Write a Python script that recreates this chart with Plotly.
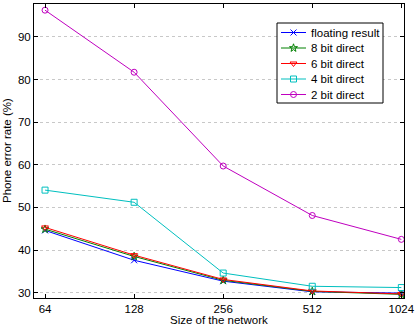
import math
import plotly.graph_objects as go

sizes = [64, 128, 256, 512, 1024]
size_labels = ["64", "128", "256", "512", "1024"]
floating = [44.6, 37.6, 32.7, 30.2, 29.9]
bit8 = [44.9, 38.5, 32.9, 30.3, 29.6]
bit6 = [45.3, 38.8, 33.1, 30.4, 29.7]
bit4 = [54.05, 51.2, 34.6, 31.5, 31.2]
bit2 = [96.25, 81.7, 59.7, 48.1, 42.5]

series = [
    ("floating result", floating, "#0000ff", "x-thin-open"),
    ("8 bit direct", bit8, "#008000", "star-open"),
    ("6 bit direct", bit6, "#ff0000", "triangle-down-open"),
    ("4 bit direct", bit4, "#00bfbf", "square-open"),
    ("2 bit direct", bit2, "#bf00bf", "circle-open"),
]

FONT = "Liberation Sans, Arial, sans-serif"
W, H = 415, 325
L, R, T, B = 34, 11, 4, 27

fig = go.Figure()
for name, vals, color, sym in series:
    fig.add_trace(go.Scatter(
        x=sizes, y=vals, name=name, mode="lines+markers", showlegend=False,
        line=dict(color=color, width=1),
        marker=dict(symbol=sym, size=6, color=color, line=dict(color=color, width=1)),
    ))

# matlab-style legend box, drawn on a pixel-unit overlay axis (x2/y2)
box_x0, box_x1, box_y0, box_y1 = 277, 383, 23, 103
row0, row_gap = 32.5, 15.5
fig.add_trace(go.Scatter(
    x=[box_x0, box_x1, box_x1, box_x0, box_x0], y=[box_y0, box_y0, box_y1, box_y1, box_y0],
    xaxis="x2", yaxis="y2", mode="lines", fill="toself", fillcolor="white",
    line=dict(color="black", width=1), showlegend=False, hoverinfo="skip",
))
for i, (name, vals, color, sym) in enumerate(series):
    yy = row0 + row_gap * i
    fig.add_trace(go.Scatter(
        x=[box_x0 + 4, box_x0 + 29], y=[yy, yy], xaxis="x2", yaxis="y2",
        mode="lines", line=dict(color=color, width=1), showlegend=False, hoverinfo="skip",
    ))
    fig.add_trace(go.Scatter(
        x=[box_x0 + 16.5], y=[yy], xaxis="x2", yaxis="y2", mode="markers",
        marker=dict(symbol=sym, size=6, color=color, line=dict(color=color, width=1)),
        showlegend=False, hoverinfo="skip",
    ))
    fig.add_annotation(x=box_x0 + 32, y=yy, xref="x2", yref="y2", xanchor="left",
                       text=name, showarrow=False, font=dict(size=11.5))

# axis titles
fig.add_annotation(x=0.5, y=0, xref="paper", yref="paper", yanchor="top", yshift=-14,
                   text="Size of the network", showarrow=False, font=dict(size=11.5))
fig.add_annotation(x=0, y=0.5, xref="paper", yref="paper", xanchor="center", xshift=-27,
                   text="Phone error rate (%)", textangle=-90, showarrow=False, font=dict(size=11.5))

fig.update_layout(
    width=W, height=H,
    margin=dict(l=L, r=R, t=T, b=B),
    paper_bgcolor="white", plot_bgcolor="white",
    font=dict(family=FONT, size=11.5, color="black"),
    showlegend=False,
    xaxis=dict(
        type="log", range=[math.log10(2 ** 5.876), math.log10(2 ** 10.03)],
        tickvals=sizes, ticktext=size_labels,
        ticks="inside", ticklen=4, tickcolor="black",
        showline=True, linecolor="black", linewidth=1, mirror="ticks",
        showgrid=False, zeroline=False, automargin=False,
    ),
    yaxis=dict(
        range=[28.75, 97.7], tickvals=[30, 40, 50, 60, 70, 80, 90],
        ticks="inside", ticklen=4, tickcolor="black",
        showline=True, linecolor="black", linewidth=1, mirror="ticks",
        showgrid=True, gridcolor="#c8c8c8", griddash="dot", gridwidth=1,
        zeroline=False, automargin=False,
    ),
    xaxis2=dict(overlaying="x", range=[L, W - R], visible=False, fixedrange=True),
    yaxis2=dict(overlaying="y", range=[H - B, T], visible=False, fixedrange=True),
)

fig.write_html("out.html", config={"displayModeBar": False},
               post_script="document.body.style.margin='0';")
